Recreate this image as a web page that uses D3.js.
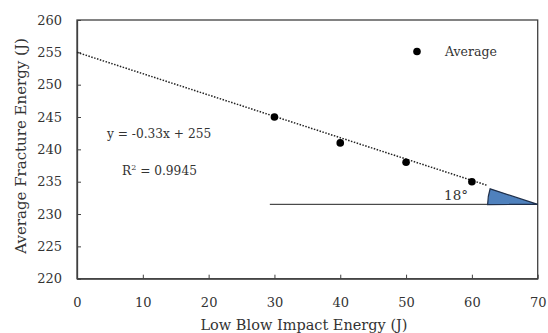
<!DOCTYPE html>
<html>
<head>
<meta charset="utf-8">
<script src="https://cdn.jsdelivr.net/npm/d3@7"></script>
<style>
  body { margin: 0; background: #fff; }
  text { font-family: "DejaVu Serif", serif; fill: #333; }
</style>
</head>
<body>
<div class="chart"></div>
<script>
// data
var impact = [30, 40, 50, 60];
var fracture = [245, 241, 238, 235];
var xTicks = [0, 10, 20, 30, 40, 50, 60, 70];
var yTicks = [220, 225, 230, 235, 240, 245, 250, 255, 260];
var slope = -0.33, intercept = 255, fitEnd = 62.4;
var baseLevel = 231.5, baseFrom = 29.3, angleDeg = 18;

var width = 548, height = 333;
var m = {top: 20, left: 77};

var svg = d3.select(".chart").append("svg").attr("width", width).attr("height", height);

var x = d3.scaleLinear().domain([0, 70]).range([m.left, 537.7]);
var y = d3.scaleLinear().domain([220, 260]).range([278.7, m.top]);

// plot frame
svg.append("rect")
  .attr("x", x(0)).attr("y", y(260))
  .attr("width", x(70) - x(0)).attr("height", y(220) - y(260))
  .attr("fill", "none").attr("stroke", "#404040").attr("stroke-width", 1.3);

var xAxis = svg.append("g").attr("transform", "translate(0," + y(220) + ")")
  .call(d3.axisBottom(x).tickValues(xTicks).tickSizeInner(-4).tickSizeOuter(0).tickPadding(19));
var yAxis = svg.append("g").attr("transform", "translate(" + x(0) + ",0)")
  .call(d3.axisLeft(y).tickValues(yTicks).tickSizeInner(-4).tickSizeOuter(0).tickPadding(15));
[xAxis, yAxis].forEach(function(a) {
  a.select(".domain").attr("stroke", "#404040").attr("stroke-width", 1.3);
  a.selectAll(".tick line").attr("stroke", "#404040");
  a.selectAll("text").style("font-size", "13px").attr("fill", "#333")
    .style("font-family", "'DejaVu Serif', serif");
});

// trend line
svg.append("line")
  .attr("x1", x(0)).attr("y1", y(intercept))
  .attr("x2", x(fitEnd)).attr("y2", y(intercept + slope * fitEnd))
  .attr("stroke", "#222").attr("stroke-width", 1.5).attr("stroke-dasharray", "1.5,1.5");

// horizontal reference line
svg.append("line")
  .attr("x1", x(baseFrom)).attr("y1", y(baseLevel))
  .attr("x2", x(70)).attr("y2", y(baseLevel))
  .attr("stroke", "#222").attr("stroke-width", 1);

// angle wedge
var r = x(70) - x(fitEnd);
var arc = d3.arc().innerRadius(0).outerRadius(r)
  .startAngle(-Math.PI / 2 - 0.005).endAngle(-Math.PI / 2 + angleDeg * Math.PI / 180);
svg.append("path")
  .attr("d", arc())
  .attr("transform", "translate(" + x(70) + "," + y(baseLevel) + ")")
  .attr("fill", "#4f81bd").attr("stroke", "#1f2f4a").attr("stroke-width", 1.3);

svg.append("text").attr("x", x(57.6)).attr("y", y(baseLevel) - 4)
  .attr("text-anchor", "middle").style("font-size", "13.5px").text("18°");

// points
svg.selectAll(".pt").data(impact).enter().append("circle")
  .attr("class", "pt")
  .attr("cx", function(d) { return x(d); })
  .attr("cy", function(d, i) { return y(fracture[i]); })
  .attr("r", 3.8).attr("fill", "#000");

// legend
svg.append("circle").attr("cx", 417).attr("cy", 51.5).attr("r", 3.8).attr("fill", "#000");
svg.append("text").attr("x", 445).attr("y", 56).style("font-size", "12.5px").text("Average");

// equation
svg.append("text").attr("x", 107).attr("y", 138).style("font-size", "12.2px").text("y = -0.33x + 255");
var rt = svg.append("text").attr("x", 122).attr("y", 175).style("font-size", "12.2px");
rt.append("tspan").text("R");
rt.append("tspan").attr("dy", -5).style("font-size", "8px").text("2");
rt.append("tspan").attr("dy", 5).text(" = 0.9945");

// axis titles
svg.append("text").attr("x", 304).attr("y", 330).attr("text-anchor", "middle")
  .style("font-size", "14.5px").text("Low Blow Impact Energy (J)");
svg.append("text").attr("transform", "translate(26,146) rotate(-90)")
  .attr("text-anchor", "middle").style("font-size", "15px").text("Average Fracture Energy (J)");
</script>
</body>
</html>
